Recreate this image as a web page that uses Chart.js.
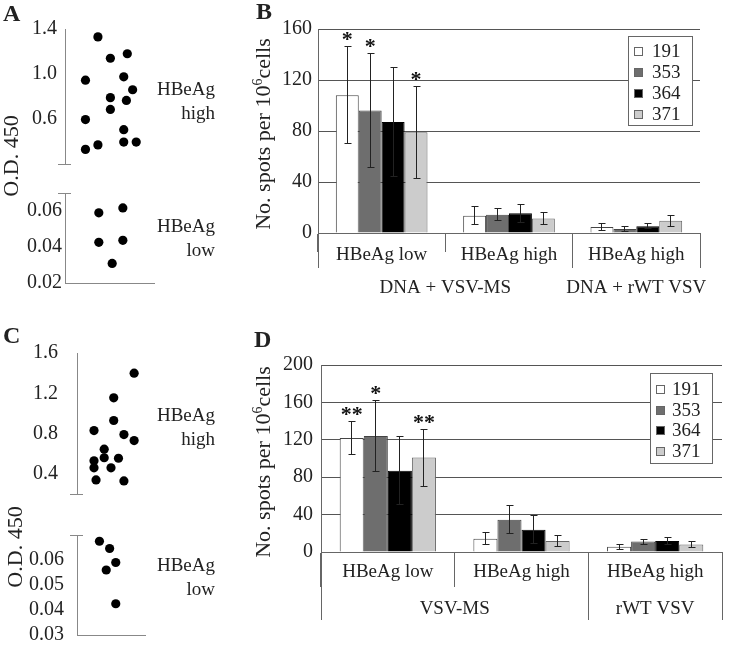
<!DOCTYPE html>
<html lang="en">
<head>
  <meta charset="utf-8">
  <title>HBeAg ELISPOT</title>
  <style>
    body { margin: 0; background: #fff; }
    #fig { position: relative; width: 742px; height: 650px; overflow: hidden; background: #fff;
           font-family: "Liberation Serif", "Times New Roman", serif; color: #222; }
    #fig canvas { position: absolute; }
    .t { position: absolute; white-space: nowrap; }
    .letter { font-size: 24px; font-weight: bold; line-height: 24px; }
    .side { font-size: 19px; line-height: 24px; text-align: right; width: 100px; margin-left: -100px; }
    .ytitle { font-size: 22px; line-height: 22px; transform: translate(-50%, -50%) rotate(-90deg); }
    .ytitle sup { font-size: 14px; line-height: 0; vertical-align: 8px; }
  </style>
</head>
<body>
<div id="fig">
  <canvas id="aHigh" width="180" height="184" style="left:0;top:0"></canvas>
  <canvas id="aLow" width="180" height="135" style="left:0;top:170px"></canvas>
  <canvas id="cHigh" width="180" height="205" style="left:0;top:320px"></canvas>
  <canvas id="cLow" width="180" height="150" style="left:0;top:510px"></canvas>
  <canvas id="bChart" width="542" height="300" style="left:200px;top:0"></canvas>
  <canvas id="dChart" width="542" height="330" style="left:200px;top:320px"></canvas>

  <div class="t letter" style="left:3px;top:1px">A</div>
  <div class="t letter" style="left:256px;top:-1px">B</div>
  <div class="t letter" style="left:3px;top:323px">C</div>
  <div class="t letter" style="left:254px;top:327px">D</div>

  <div class="t ytitle" style="left:11px;top:156px">O.D. 450</div>
  <div class="t ytitle" style="left:15px;top:547px">O.D. 450</div>
  <div class="t ytitle" style="left:263px;top:134px">No. spots per 10<sup>6</sup>cells</div>
  <div class="t ytitle" style="left:263px;top:462px">No. spots per 10<sup>6</sup>cells</div>

  <div class="t side" style="left:215px;top:77px">HBeAg<br>high</div>
  <div class="t side" style="left:215px;top:214px">HBeAg<br>low</div>
  <div class="t side" style="left:215px;top:403px">HBeAg<br>high</div>
  <div class="t side" style="left:215px;top:553px">HBeAg<br>low</div>
</div>
<script src="https://cdn.jsdelivr.net/npm/chart.js"></script>
<script>
  var SERIF = '"Liberation Serif", "Times New Roman", serif';
  var TEXT = '#222';
  var GRID = '#555';
  var AXIS = '#666';
  var DOT_AXIS = '#888';

  // panel A - O.D. 450 of each serum (x = jitter position)
  var aHighX = [3.7, 7.0, 5.1, 2.3, 6.6, 7.6, 5.1, 6.9, 5.1, 2.3, 6.6, 3.7, 2.3, 6.6, 8.0];
  var aHighY = [1.33, 1.18, 1.14, 0.945, 0.975, 0.86, 0.79, 0.765, 0.685, 0.595, 0.505, 0.37, 0.33, 0.395, 0.395];
  var aLowX = [3.8, 6.5, 3.8, 6.5, 5.3];
  var aLowY = [0.059, 0.0617, 0.0426, 0.0437, 0.0309];
  var aHighTicks = [0.6, 1.0, 1.4];
  var aLowTicks = [0.02, 0.04, 0.06];

  // panel C
  var cHighX = [8.4, 5.4, 5.4, 2.5, 6.9, 8.4, 4.0, 2.5, 4.0, 6.1, 2.5, 5.0, 2.8, 6.9];
  var cHighY = [1.40, 1.155, 0.93, 0.83, 0.79, 0.73, 0.645, 0.53, 0.56, 0.555, 0.46, 0.46, 0.34, 0.33];
  var cLowX = [3.3, 4.8, 5.7, 4.3, 5.7];
  var cLowY = [0.0675, 0.0646, 0.059, 0.056, 0.0425];
  var cHighTicks = [0.4, 0.8, 1.2, 1.6];
  var cLowTicks = [0.03, 0.04, 0.05, 0.06];

  // bar panels B and D
  var peptides = ['191', '353', '364', '371'];
  var cohorts = ['HBeAg low', 'HBeAg high', 'HBeAg high'];
  var bGroups = ['DNA + VSV-MS', 'DNA + rWT VSV'];
  var dGroups = ['VSV-MS', 'rWT VSV'];
  var groupSpans = [2, 1];
  var bTicks = [0, 40, 80, 120, 160];
  var dTicks = [0, 40, 80, 120, 160, 200];

  var b191 = [108, 13.6, 4.8],  b191Err = [38, 7, 2.5],   b191Sig = ['*', '', ''];
  var b353 = [96, 14.4, 3.2],   b353Err = [45, 4.5, 2],   b353Sig = ['*', '', ''];
  var b364 = [87, 15.4, 5.2],   b364Err = [43, 7, 2],     b364Sig = ['', '', ''];
  var b371 = [79, 11.3, 9.6],   b371Err = [36, 4.5, 4.5], b371Sig = ['*', '', ''];

  var d191 = [122, 14.3, 5.7],  d191Err = [18, 6.6, 2.7],    d191Sig = ['**', '', ''];
  var d353 = [124, 34.6, 11.1], d353Err = [37.5, 14.8, 2.8], d353Sig = ['*', '', ''];
  var d364 = [87, 23.9, 11.8],  d364Err = [36.5, 15, 4.2],   d364Sig = ['', '', ''];
  var d371 = [101, 11.8, 7.9],  d371Err = [30.5, 5.7, 3.6],  d371Sig = ['**', '', ''];

  var FILLS = ['#ffffff', '#6e6e6e', '#000000', '#cccccc'];
  var EDGES = ['#444444', '#444444', '#000000', '#666666'];

  Chart.defaults.font.family = SERIF;
  Chart.defaults.font.size = 20;
  Chart.defaults.color = TEXT;

  function px(p) { return Math.round(p - 0.5) + 0.5; }

  // short horizontal mark where the O.D. axis is broken
  var axisBreak = {
    id: 'axisBreak',
    afterDraw: function (chart, args, opts) {
      var y = chart.scales.y, c = chart.ctx;
      var py = px(opts.at === 'min' ? y.bottom : y.top);
      c.save();
      c.strokeStyle = DOT_AXIS;
      c.lineWidth = 1;
      c.beginPath();
      c.moveTo(y.right - 7, py);
      c.lineTo(y.right + 6, py);
      c.stroke();
      c.restore();
    }
  };

  // error bars + significance stars
  var errorBars = {
    id: 'errorBars',
    afterDatasetsDraw: function (chart) {
      var c = chart.ctx, y = chart.scales.y;
      c.save();
      c.strokeStyle = '#222';
      c.fillStyle = '#111';
      c.lineWidth = 1;
      c.font = 'bold 22px ' + SERIF;
      c.textAlign = 'center';
      c.textBaseline = 'alphabetic';
      chart.data.datasets.forEach(function (ds, i) {
        chart.getDatasetMeta(i).data.forEach(function (bar, j) {
          var v = ds.data[j], e = ds.errors[j];
          var x = px(bar.x);
          var top = px(y.getPixelForValue(v + e));
          var bot = px(y.getPixelForValue(Math.max(v - e, 0)));
          c.beginPath();
          c.moveTo(x, top); c.lineTo(x, bot);
          c.moveTo(x - 3, top); c.lineTo(x + 4, top);
          c.moveTo(x - 3, bot); c.lineTo(x + 4, bot);
          c.stroke();
          if (ds.stars[j]) c.fillText(ds.stars[j], bar.x, top - 1);
        });
      });
      c.restore();
    }
  };

  // second label row: treatment groups spanning several categories
  var groupAxis = {
    id: 'groupAxis',
    afterDraw: function (chart, args, o) {
      var xs = chart.scales.x, c = chart.ctx, n = xs.ticks.length;
      var edge = function (k) {
        if (k === 0) return xs.left;
        if (k === n) return xs.right;
        return (xs.getPixelForTick(k - 1) + xs.getPixelForTick(k)) / 2;
      };
      var base = chart.chartArea.bottom;
      c.save();
      c.strokeStyle = AXIS;
      c.lineWidth = 1;
      c.fillStyle = TEXT;
      c.font = '19px ' + SERIF;
      c.textAlign = 'center';
      c.textBaseline = 'middle';
      c.beginPath();
      c.moveTo(px(edge(0)), base);
      c.lineTo(px(edge(0)), base + o.depth);
      var k = 0;
      o.labels.forEach(function (lab, g) {
        var k2 = k + o.spans[g];
        c.moveTo(px(edge(k2)), base);
        c.lineTo(px(edge(k2)), base + o.depth);
        c.fillText(lab, (edge(k) + edge(k2)) / 2, base + o.labelY);
        k = k2;
      });
      c.stroke();
      c.restore();
    }
  };

  // boxed legend inside the plot, top right
  var boxLegend = {
    id: 'boxLegend',
    afterDraw: function (chart, args, o) {
      var a = chart.chartArea, c = chart.ctx;
      var x0 = Math.round(a.right - o.right), y0 = Math.round(a.top + o.top);
      c.save();
      c.fillStyle = '#fff';
      c.fillRect(x0, y0, o.w, o.h);
      c.strokeStyle = AXIS;
      c.lineWidth = 1;
      c.strokeRect(x0 + 0.5, y0 + 0.5, o.w, o.h);
      c.font = '19px ' + SERIF;
      c.textAlign = 'left';
      c.textBaseline = 'middle';
      chart.data.datasets.forEach(function (ds, i) {
        var cy = Math.round(y0 + o.first + i * o.step);
        c.fillStyle = ds.backgroundColor;
        c.fillRect(x0 + 6, cy - 4, 9, 9);
        c.strokeStyle = '#666';
        c.strokeRect(x0 + 6.5, cy - 3.5, 8, 8);
        c.fillStyle = TEXT;
        c.fillText(ds.label, x0 + o.tx, cy + 1);
      });
      c.restore();
    }
  };

  function scatterPart(id, xs, ys, ticks, o) {
    return new Chart(document.getElementById(id), {
      type: 'scatter',
      data: {
        datasets: [{
          data: xs.map(function (x, i) { return { x: x, y: ys[i] }; }),
          backgroundColor: '#000', borderWidth: 0, pointRadius: 4.6, clip: false
        }]
      },
      options: {
        responsive: false, animation: false, events: [],
        layout: { padding: o.pad },
        plugins: { legend: { display: false }, tooltip: { enabled: false }, axisBreak: { at: o.breakAt } },
        scales: {
          x: {
            type: 'linear', min: 0, max: 10, display: o.baseLine,
            grid: { display: false, drawTicks: false }, ticks: { display: false },
            border: { display: true, color: DOT_AXIS },
            afterFit: function (s) { s.height = 0; }
          },
          y: {
            min: o.min, max: o.max,
            grid: { display: false, drawTicks: false },
            border: { color: DOT_AXIS },
            ticks: { color: TEXT, padding: o.tickPad, callback: function (v) { return v.toFixed(o.dec); } },
            afterBuildTicks: function (s) { s.ticks = ticks.map(function (v) { return { value: v }; }); },
            afterFit: function (s) { s.width = o.axisW; }
          }
        }
      },
      plugins: [axisBreak]
    });
  }

  function barPanel(id, o) {
    return new Chart(document.getElementById(id), {
      type: 'bar',
      data: {
        labels: cohorts,
        datasets: peptides.map(function (p, i) {
          return {
            label: p, data: o.means[i], errors: o.errs[i], stars: o.stars[i],
            backgroundColor: FILLS[i], borderColor: EDGES[i], borderWidth: 1,
            barPercentage: 1, categoryPercentage: o.catPct
          };
        })
      },
      options: {
        responsive: false, animation: false, events: [],
        layout: { padding: o.pad },
        plugins: {
          legend: { display: false }, tooltip: { enabled: false },
          boxLegend: o.legend,
          groupAxis: { labels: o.groups, spans: groupSpans, depth: o.depth, labelY: o.labelY }
        },
        scales: {
          x: {
            grid: { offset: true, drawOnChartArea: false, tickLength: o.tick, color: AXIS },
            border: { color: AXIS },
            ticks: { color: TEXT, font: { size: 19 }, padding: o.labelPad, maxRotation: 0, autoSkip: false },
            afterFit: function (s) { s.height = o.xH; }
          },
          y: {
            min: 0, max: o.max,
            grid: { color: GRID, drawTicks: false },
            border: { color: AXIS },
            ticks: { color: TEXT, padding: o.yPad },
            afterBuildTicks: function (s) { s.ticks = o.ticks.map(function (v) { return { value: v }; }); },
            afterFit: function (s) { s.width = o.axisW; }
          }
        }
      },
      plugins: [errorBars, groupAxis, boxLegend]
    });
  }

  scatterPart('aHigh', aHighX, aHighY, aHighTicks, {
    min: 0.2, max: 1.4, dec: 1, tickPad: 8, axisW: 65, baseLine: false, breakAt: 'min',
    pad: { top: 29, right: 26, bottom: 16, left: 0 }
  });
  scatterPart('aLow', aLowX, aLowY, aLowTicks, {
    min: 0.02, max: 0.07, dec: 2, tickPad: 3, axisW: 65, baseLine: true, breakAt: 'max',
    pad: { top: 23, right: 26, bottom: 22, left: 0 }
  });
  scatterPart('cHigh', cHighX, cHighY, cHighTicks, {
    min: 0.2, max: 1.6, dec: 1, tickPad: 19, axisW: 77, baseLine: false, breakAt: 'min',
    pad: { top: 33, right: 35, bottom: 17, left: 0 }
  });
  scatterPart('cLow', cLowX, cLowY, cLowTicks, {
    min: 0.03, max: 0.07, dec: 2, tickPad: 13, axisW: 77, baseLine: true, breakAt: 'max',
    pad: { top: 20, right: 35, bottom: 17, left: 0 }
  });

  barPanel('bChart', {
    means: [b191, b353, b364, b371], errs: [b191Err, b353Err, b364Err, b371Err],
    stars: [b191Sig, b353Sig, b364Sig, b371Sig], groups: bGroups, ticks: bTicks, max: 160,
    catPct: 0.72, axisW: 118, yPad: 6, xH: 67, tick: 19, labelPad: -8, depth: 35, labelY: 55.5,
    pad: { top: 29, right: 42, bottom: 0, left: 0 },
    legend: { right: 72, top: 7, w: 64, h: 89, first: 14.5, step: 21, tx: 24 }
  });
  barPanel('dChart', {
    means: [d191, d353, d364, d371], errs: [d191Err, d353Err, d364Err, d371Err],
    stars: [d191Sig, d353Sig, d364Sig, d371Sig], groups: dGroups, ticks: dTicks, max: 200,
    catPct: 0.72, axisW: 121, yPad: 8, xH: 98, tick: 35, labelPad: -26, depth: 68, labelY: 57,
    pad: { top: 45, right: 20, bottom: 0, left: 0 },
    legend: { right: 72, top: 8, w: 62, h: 90, first: 16, step: 20.6, tx: 22 }
  });
</script>
</body>
</html>
